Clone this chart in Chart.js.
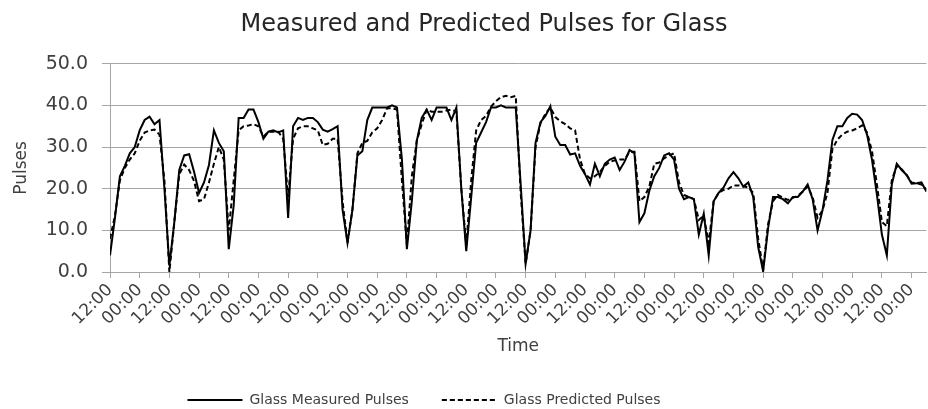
<!DOCTYPE html>
<html>
<head>
<meta charset="utf-8">
<title>Measured and Predicted Pulses for Glass</title>
<script src="https://cdn.jsdelivr.net/npm/chart.js@4.4.1/dist/chart.umd.min.js"></script>
<style>
  html, body { margin: 0; padding: 0; background: #fff; }
  #wrap { width: 928px; height: 409px; position: relative; }
</style>
</head>
<body>
<div id="wrap"><canvas id="pulseChart"></canvas></div>
<script>
// Values, one sample every 2 hours
const measured = [
  4, 13, 23, 25.5, 28.5, 30, 34, 36.5, 37.3, 35.5,
  36.5, 20, 1.5, 12, 24.5, 28, 28.3, 24, 19, 21.5,
  25.7, 34, 31, 29, 5.5, 16, 37, 37, 39, 39,
  36, 32, 33.7, 34, 33.5, 34, 13, 35, 37, 36.5,
  37, 37, 36, 34.2, 33.7, 34.3, 35, 15, 7, 15,
  28, 29, 36.5, 39.5, 39.5, 39.5, 39.5, 40, 39.5, 27,
  5.5, 17, 31.5, 37, 39, 36.5, 39.5, 39.5, 39.5, 36.5,
  39.5, 20, 5, 18, 31, 33.5, 36, 39.5, 39.5, 40,
  39.5, 39.5, 39.5, 21, 2, 10, 31, 36, 37.5, 39.8,
  32.5, 30.5, 30.5, 28.2, 28.5, 25.5, 23.5, 21, 26, 23,
  26, 27, 27.5, 24.5, 26.5, 29.3, 28.5, 12, 14.1, 19.5,
  23, 25, 28, 28.5, 27, 20, 17.5, 18, 17.5, 9,
  14, 4, 17, 19, 20.3, 22.5, 24, 22.5, 20.5, 21.5,
  18, 6, 0.2, 10.5, 18, 18, 17.5, 16.5, 18, 18,
  19.3, 21, 17.5, 10, 14.8, 22, 31.7, 35, 35, 37,
  38, 37.8, 36.5, 33, 27, 18.5, 9, 4, 21, 26,
  24.5, 23.3, 21.2, 21.3, 21.5, 19.3
];
const predicted = [
  8, 13.5, 22, 25, 27, 28.5, 31.5, 33.5, 34, 34.2,
  33, 22, 0, 12, 23.5, 25.8, 24.5, 21.8, 17, 17.5,
  21.5, 26, 30, 27, 10, 22, 34, 35, 35.2, 35.5,
  35, 32.5, 33.7, 33.7, 33.7, 32, 18, 32, 34.5, 35,
  35, 34.5, 34, 30.5, 30.8, 32, 32, 17, 7, 15,
  28.5, 31, 31.5, 33.5, 34.5, 36.5, 39.3, 39.3, 39, 22,
  6.5, 23, 31.5, 35.5, 39, 38.5, 38.5, 38.5, 38.8, 39,
  38.5, 20, 6.5, 22, 34, 36.5, 37.5, 39.7, 41, 42,
  42.3, 42, 42.3, 19, 2, 10, 30, 35.7, 38, 39.5,
  37.2, 36.2, 35.5, 34.5, 34, 27, 23.5, 22.5, 23, 24,
  25.5, 26.5, 26.8, 27, 27, 28.9, 28.9, 17, 18, 20.5,
  26, 26.3, 27.3, 28, 28.5, 21.5, 18.5, 18, 17.5, 12.5,
  13.5, 7, 17, 19, 19.7, 20, 20.8, 20.8, 20.6, 20.3,
  19, 8, 0.5, 11.5, 17, 18.5, 17.8, 17.3, 17.8, 18.3,
  19.3, 20.5, 18, 13, 14.8, 19, 29.5, 31.8, 33, 33.7,
  34, 34.5, 35.2, 33.5, 29, 21, 12, 11, 22, 25.5,
  24.7, 23.3, 21.5, 21.3, 21, 19.8
];
const tickLabels = ['12:00', '00:00'];
const stepHours = 2;     // spacing of the samples
const tickHours = 12;    // one axis label every 12 hours
const spanHours = 330;

const gridGrey = '#a6a6a6';
const textGrey = '#404040';
const legendGap = 33;

Chart.defaults.font.family = "'DejaVu Sans', sans-serif";

// nudge title and legend to where they sit in the original
const nudgeBoxes = {
  id: 'nudgeBoxes',
  afterLayout(chart) {
    const lg = chart.legend;
    if (lg) {
      lg.left -= 40; lg.right -= 40;
      lg.top = 400 - 7 - legendGap;
      lg.bottom = chart.height;
      lg.height = lg.bottom - lg.top;
    }
    const tb = chart.titleBlock;
    if (tb) { tb.left += 20; tb.right += 20; }
  }
};

const toPoints = arr => arr.map((v, i) => ({ x: i * stepHours, y: v }));

// legend with point style loses the dash, so copy it back from the datasets
function legendItems(chart) {
  const items = Chart.defaults.plugins.legend.labels.generateLabels(chart);
  items.forEach(item => {
    const ds = chart.data.datasets[item.datasetIndex];
    item.lineDash = ds.borderDash || [];
    item.lineWidth = ds.borderWidth;
    item.strokeStyle = ds.borderColor;
  });
  return items;
}

new Chart(document.getElementById('pulseChart'), {
  type: 'line',
  data: {
    datasets: [
      { label: 'Glass Measured Pulses', data: toPoints(measured), borderColor: '#000', backgroundColor: '#000',
        borderWidth: 2, pointRadius: 0, tension: 0, fill: false },
      { label: 'Glass Predicted Pulses', data: toPoints(predicted), borderColor: '#000', backgroundColor: '#000',
        borderWidth: 2, borderDash: [5, 3], pointRadius: 0, tension: 0, fill: false }
    ]
  },
  options: {
    responsive: true,
    maintainAspectRatio: false,
    animation: false,
    layout: { padding: 0 },
    plugins: {
      title: { display: true, text: 'Measured and Predicted Pulses for Glass', color: '#262626',
        font: { size: 24, weight: 'normal' }, padding: { top: 10, bottom: 25 } },
      legend: {
        position: 'bottom',
        maxHeight: 20,
        labels: { usePointStyle: true, pointStyle: 'line', pointStyleWidth: 55, padding: legendGap,
          color: textGrey, font: { size: 14 }, generateLabels: legendItems }
      },
      tooltip: { enabled: false }
    },
    scales: {
      x: {
        type: 'linear', min: 0, max: spanHours,
        afterFit: s => { s.height = 117; },
        grid: { drawOnChartArea: false, drawTicks: true, tickLength: 6, color: gridGrey },
        border: { color: gridGrey },
        ticks: { stepSize: tickHours, includeBounds: false, autoSkip: false, minRotation: 45, maxRotation: 45,
          padding: 2, color: textGrey, font: { size: 17 },
          callback: v => tickLabels[Math.round(v / tickHours) % 2] },
        title: { display: true, text: 'Time', color: textGrey, font: { size: 17 }, padding: { top: 0, bottom: 32 } }
      },
      y: {
        min: 0, max: 50,
        afterFit: s => { s.width = 110; },
        grid: { color: gridGrey, tickLength: 8 },
        border: { color: gridGrey },
        ticks: { stepSize: 10, padding: 14, color: textGrey, font: { size: 19 }, callback: v => v.toFixed(1) },
        title: { display: true, text: 'Pulses', color: textGrey, font: { size: 17 }, padding: { top: 11, bottom: 0 } }
      }
    }
  },
  plugins: [nudgeBoxes]
});
</script>
</body>
</html>
